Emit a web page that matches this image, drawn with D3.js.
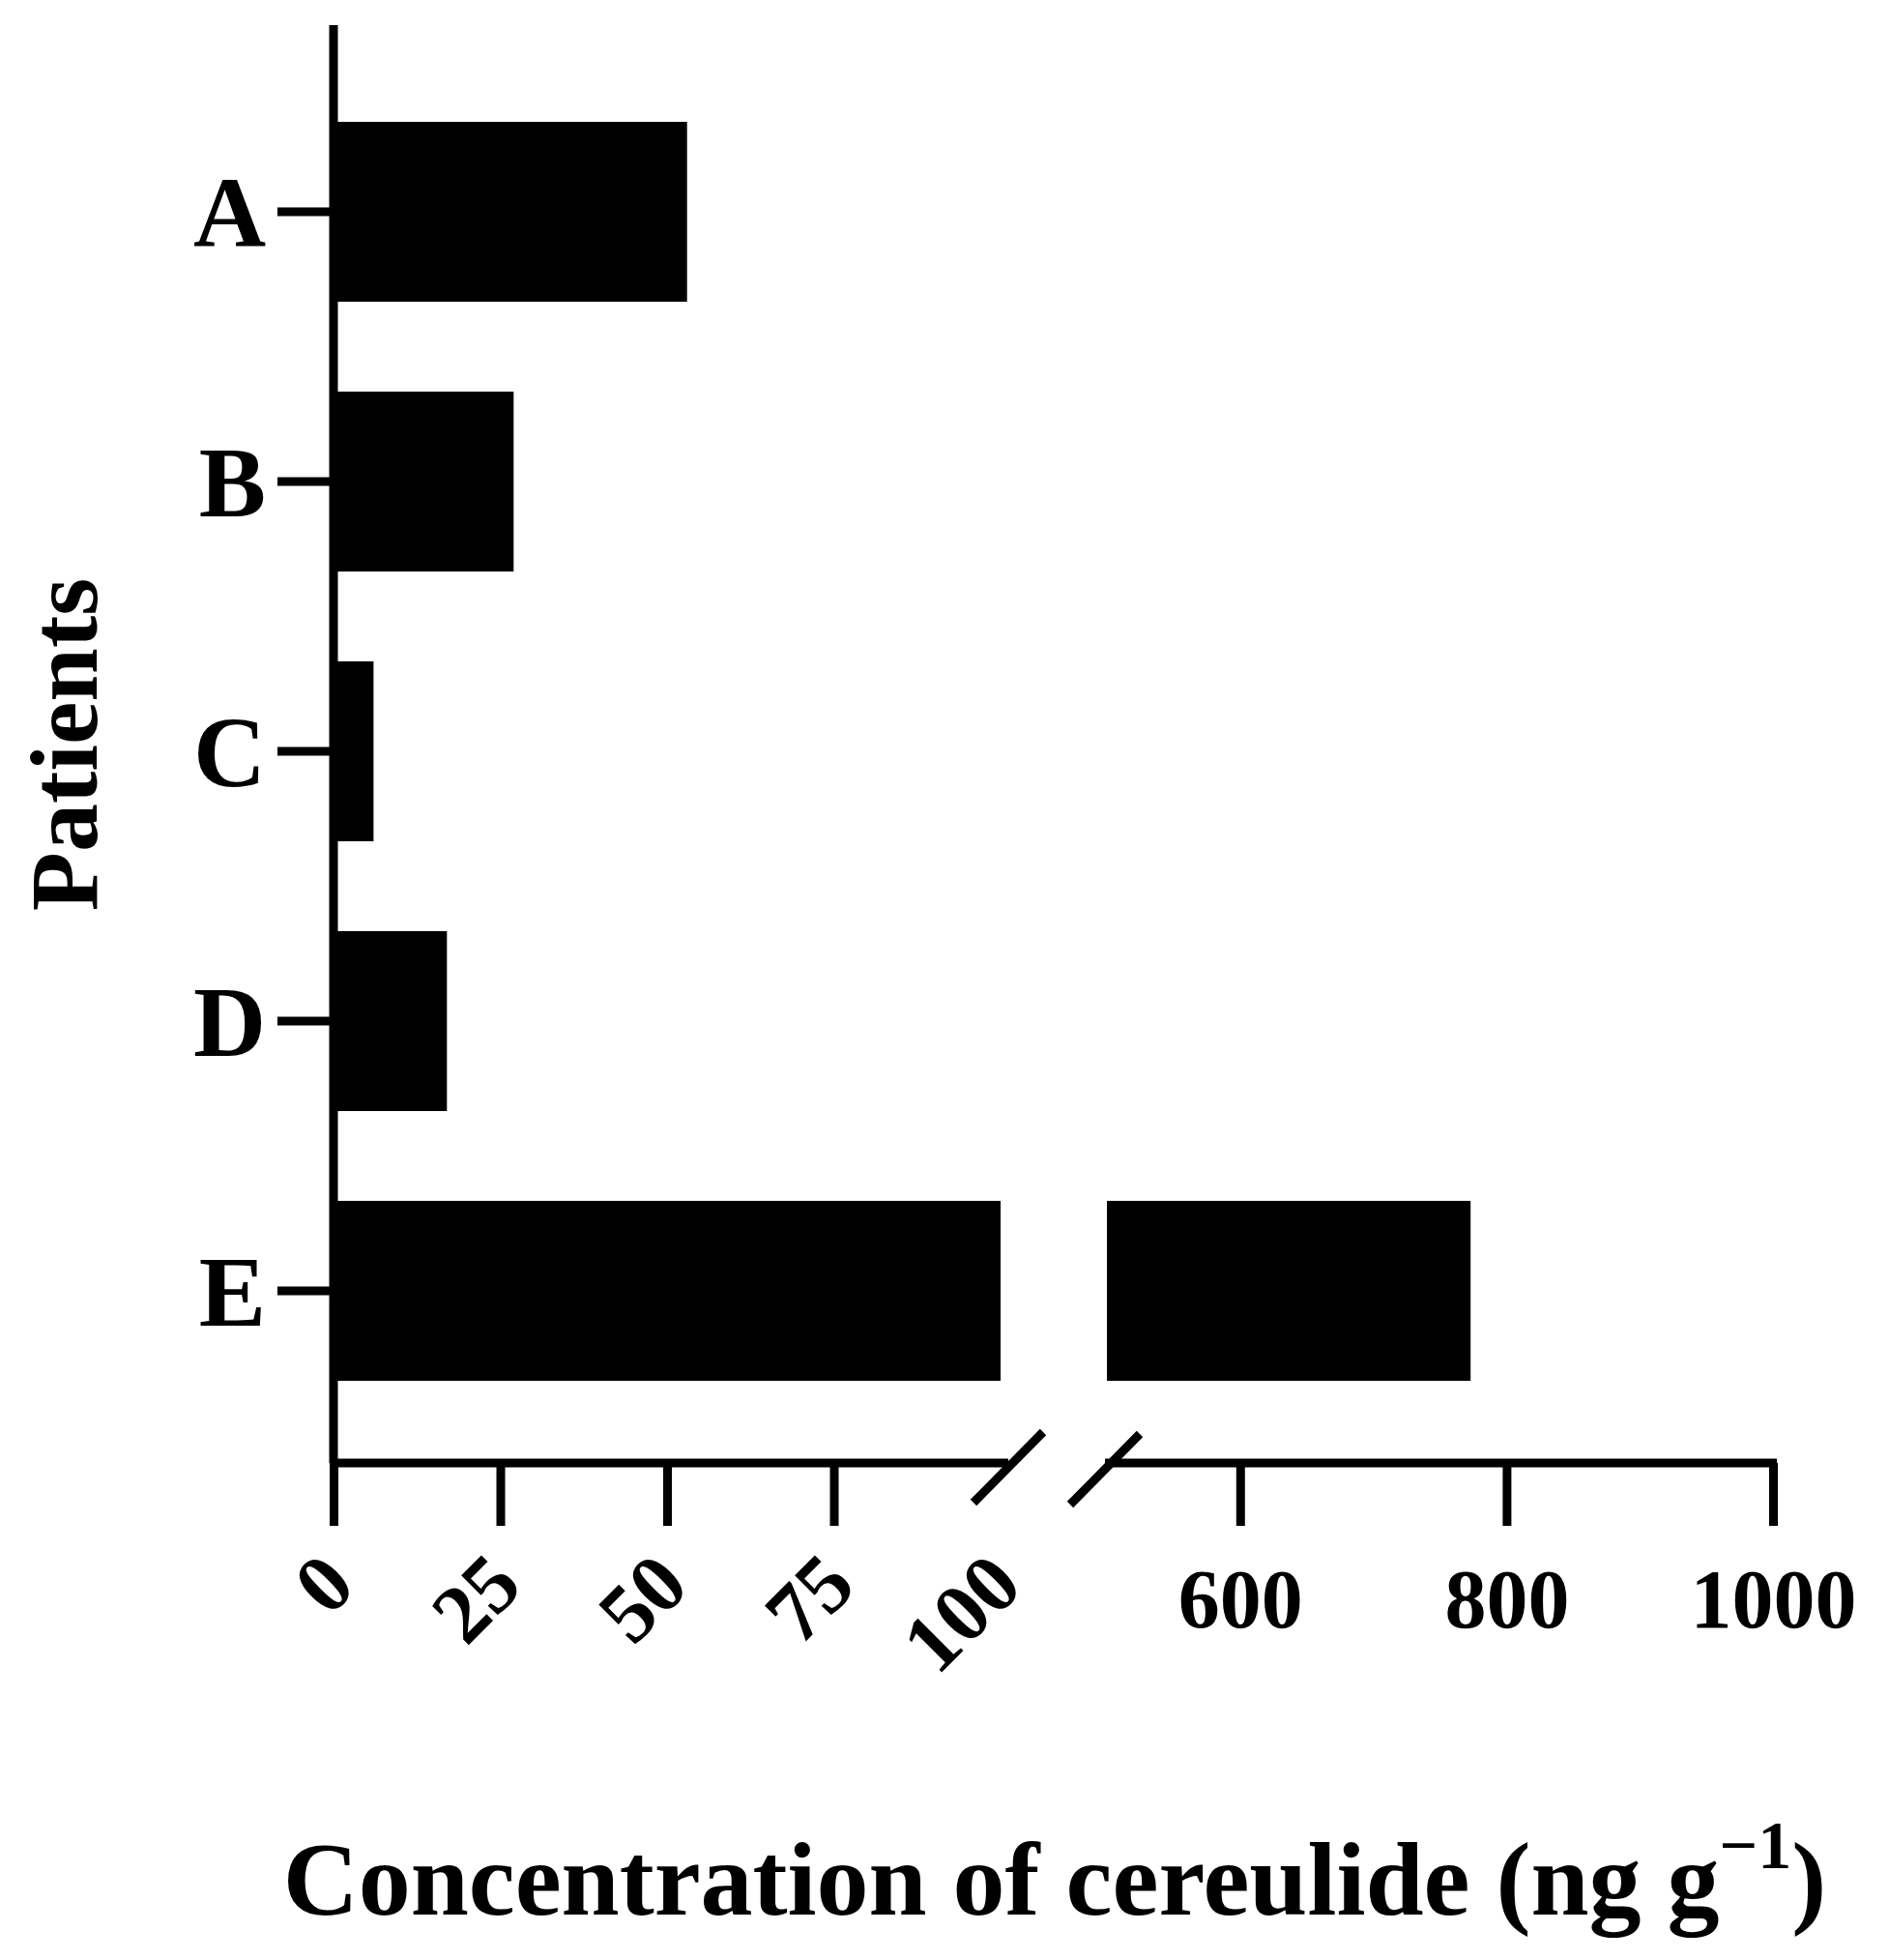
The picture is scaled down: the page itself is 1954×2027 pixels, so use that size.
<!DOCTYPE html>
<html><head><meta charset="utf-8">
<script src="https://cdn.jsdelivr.net/npm/d3@7"></script>
<style>body{margin:0;background:#fff}</style></head>
<body><svg id="c" width="1954" height="2027"></svg>
<script>
const patients = ["A","B","C","D","E"];
const values = [53, 27, 6, 17, 773];
const ticksLow = [0,25,50,75,100];
const ticksHigh = [600,800,1000];
const font = "'Liberation Serif','DejaVu Serif',serif";

const svg = d3.select("#c");
const x1 = d3.scaleLinear().domain([0,100]).range([345,1035]);
const x2 = d3.scaleLinear().domain([500,1000]).range([1145,1834]);
const y = d3.scaleBand().domain(patients).range([126,1428]).paddingInner(0.333).paddingOuter(0);
const axisY = 1513;

patients.forEach((p,i)=>{
  const v = values[i];
  svg.append("rect").attr("x",x1(0)).attr("y",y(p)).attr("height",y.bandwidth())
    .attr("width",x1(Math.min(v,100))-x1(0)).attr("fill","#000");
  if (v>100) svg.append("rect").attr("x",x2(500)).attr("y",y(p)).attr("height",y.bandwidth())
    .attr("width",x2(v)-x2(500)).attr("fill","#000");
});

const ya = svg.append("g").attr("transform",`translate(${x1(0)},0)`)
  .call(d3.axisLeft(y).tickSize(58).tickSizeOuter(0));
ya.select(".domain").remove();
ya.append("line").attr("x1",0).attr("x2",0).attr("y1",26).attr("y2",axisY).attr("stroke","#000").attr("stroke-width",9);
ya.selectAll(".tick line").attr("stroke","#000").attr("stroke-width",9);
ya.selectAll(".tick text").attr("font-family",font).attr("font-weight","bold").attr("font-size",104)
  .attr("fill","#000").attr("x",-70).attr("dy","0.35em");

const xa1 = svg.append("g").attr("transform",`translate(0,${axisY})`)
  .call(d3.axisBottom(x1).tickValues(ticksLow).tickSize(65).tickSizeOuter(0));
xa1.select(".domain").remove();
xa1.append("line").attr("x1",x1(0)-4).attr("x2",1043).attr("stroke","#000").attr("stroke-width",9);
xa1.selectAll(".tick").filter(d=>d===100).select("line").remove();
xa1.selectAll(".tick line").attr("stroke","#000").attr("stroke-width",9);
xa1.selectAll(".tick text").attr("font-family",font).attr("font-size",86).attr("font-weight","bold").attr("fill","#000")
  .attr("text-anchor","end").attr("dy",0).attr("y",0)
  .attr("transform","translate(25,130) rotate(-45)");

const xa2 = svg.append("g").attr("transform",`translate(0,${axisY})`)
  .call(d3.axisBottom(x2).tickValues(ticksHigh).tickFormat(d3.format("d")).tickSize(65).tickSizeOuter(0));
xa2.select(".domain").remove();
xa2.append("line").attr("x1",1143).attr("x2",x2(1000)+4).attr("stroke","#000").attr("stroke-width",9);
xa2.selectAll(".tick line").attr("stroke","#000").attr("stroke-width",9);
xa2.selectAll(".tick text").attr("font-family",font).attr("font-size",86).attr("font-weight","bold").attr("fill","#000")
  .attr("y",140).attr("dy","0.35em");

[[1007,1554,1079,1481],[1107,1556,1179,1483]].forEach(s=>{
  svg.append("line").attr("x1",s[0]).attr("y1",s[1]).attr("x2",s[2]).attr("y2",s[3])
    .attr("stroke","#000").attr("stroke-width",9);
});

svg.append("text").attr("transform","translate(100,770) rotate(-90)").attr("text-anchor","middle")
  .attr("font-family",font).attr("font-weight","bold").attr("font-size",100).text("Patients");
const t = svg.append("text").attr("x",1091).attr("y",1980).attr("text-anchor","middle")
  .attr("font-family",font).attr("font-weight","bold").attr("font-size",108);
t.append("tspan").text("Concentration of cereulide (ng g");
t.append("tspan").attr("dy",-48).attr("font-size",70).text("−1");
t.append("tspan").attr("dy",48).text(")");
</script></body></html>
